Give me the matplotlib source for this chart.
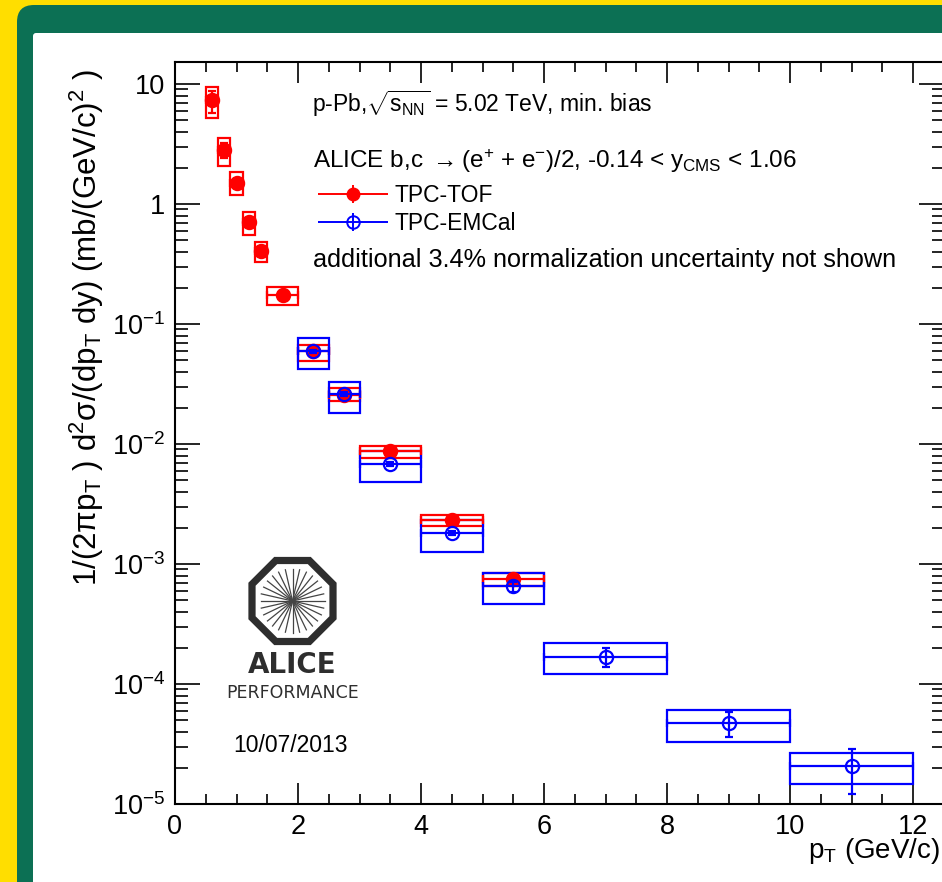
import numpy as np
import matplotlib
matplotlib.use("Agg")
import matplotlib.pyplot as plt
from matplotlib.patches import Rectangle, FancyBboxPatch, RegularPolygon
from matplotlib.legend_handler import HandlerErrorbar
from matplotlib.ticker import LogLocator, MultipleLocator, FuncFormatter, NullFormatter

plt.rcParams['font.family'] = ['Liberation Sans', 'DejaVu Sans']
plt.rcParams['mathtext.fontset'] = 'custom'
plt.rcParams['mathtext.rm'] = 'Liberation Sans'
plt.rcParams['mathtext.it'] = 'Liberation Sans'
plt.rcParams['mathtext.bf'] = 'Liberation Sans:bold'

# TPC-TOF (red, filled)
tof_lo = [0.5, 0.7, 0.9, 1.1, 1.3, 1.5, 2.0, 2.5, 3.0, 4.0, 5.0]
tof_hi = [0.7, 0.9, 1.1, 1.3, 1.5, 2.0, 2.5, 3.0, 4.0, 5.0, 6.0]
tof_x = [0.6, 0.8, 1.0, 1.2, 1.4, 1.75, 2.25, 2.75, 3.5, 4.5, 5.5]
tof_y = [7.4, 2.82, 1.50, 0.71, 0.405, 0.174, 0.059, 0.0258, 0.0087, 0.00233, 7.5e-4]
tof_stat_lo = [5.7, 2.4, 1.40, 0.68, 0.39, 0.157, 0.057, 0.025, 0.0084, 0.00226, 7.1e-4]
tof_stat_hi = [8.8, 3.2, 1.62, 0.745, 0.42, 0.19, 0.061, 0.0266, 0.0090, 0.0024, 7.9e-4]
tof_sys_lo = [5.2, 2.07, 1.195, 0.555, 0.326, 0.145, 0.0494, 0.023, 0.0077, 0.00209, 6.56e-4]
tof_sys_hi = [9.4, 3.55, 1.85, 0.857, 0.479, 0.205, 0.0671, 0.0293, 0.0096, 0.00256, 8.35e-4]

# TPC-EMCal (blue, open)
emc_lo = [2.0, 2.5, 3.0, 4.0, 5.0, 6.0, 8.0, 10.0]
emc_hi = [2.5, 3.0, 4.0, 5.0, 6.0, 8.0, 10.0, 12.0]
emc_x = [2.25, 2.75, 3.5, 4.5, 5.5, 7.0, 9.0, 11.0]
emc_y = [0.059, 0.026, 0.0068, 0.00181, 6.5e-4, 1.68e-4, 4.7e-5, 2.06e-5]
emc_stat_lo = [0.057, 0.025, 0.0065, 0.00174, 5.8e-4, 1.38e-4, 3.6e-5, 1.21e-5]
emc_stat_hi = [0.061, 0.027, 0.0071, 0.00188, 7.1e-4, 1.98e-4, 5.8e-5, 2.9e-5]
emc_sys_lo = [0.0419, 0.0182, 0.00479, 0.00127, 4.6e-4, 1.2e-4, 3.3e-5, 1.47e-5]
emc_sys_hi = [0.0764, 0.033, 0.0088, 0.00233, 8.4e-4, 2.18e-4, 6.03e-5, 2.64e-5]

RED = '#ff0000'
BLUE = '#0000ff'
W, H = 942, 882


def boxes(ax, lo, hi, ylo, yhi, color):
    for a, b, c, d in zip(lo, hi, ylo, yhi):
        ax.add_patch(Rectangle((a, c), b - a, d - c, fill=False, ec=color,
                               lw=1.6, zorder=2))


def points(ax, lo, hi, x, y, slo, shi, color, filled, z):
    x = np.array(x); y = np.array(y)
    xerr = [x - np.array(lo), np.array(hi) - x]
    yerr = [y - np.array(slo), np.array(shi) - y]
    ax.errorbar(x, y, xerr=xerr, yerr=yerr, fmt='o', ms=9.5, color=color,
                mfc=color if filled else 'none', mec=color, mew=1.6,
                elinewidth=1.6, capsize=3, capthick=1.2, zorder=z)


fig = plt.figure(figsize=(W / 100, H / 100), dpi=100, facecolor='#ffde00')

# frame
fig.patches.append(FancyBboxPatch((0.17, -1.0), 10.0, 8.77 + 1.0,
                                  boxstyle="round,pad=0,rounding_size=0.17",
                                  transform=fig.dpi_scale_trans,
                                  fc='#0c7054', ec='none', zorder=-3))
fig.patches.append(FancyBboxPatch((0.33, -1.0), 10.0, 8.49 + 1.0,
                                  boxstyle="round,pad=0,rounding_size=0.03",
                                  transform=fig.dpi_scale_trans,
                                  fc='white', ec='none', zorder=-2))

ax = fig.add_axes([175 / W, 78 / H, 768.75 / W, 742 / H])
ax.set_zorder(1)
ax.set_facecolor('white')
ax.set_yscale('log')
ax.set_xlim(0, 12.5)
ax.set_ylim(1e-5, 10 ** 1.183)

boxes(ax, tof_lo, tof_hi, tof_sys_lo, tof_sys_hi, RED)
boxes(ax, emc_lo, emc_hi, emc_sys_lo, emc_sys_hi, BLUE)
points(ax, tof_lo, tof_hi, tof_x, tof_y, tof_stat_lo, tof_stat_hi, RED, True, 4)
points(ax, emc_lo, emc_hi, emc_x, emc_y, emc_stat_lo, emc_stat_hi, BLUE, False, 5)

# legend proxies
h1 = ax.errorbar([], [], xerr=[], yerr=[], fmt='o', ms=9, color=RED, mfc=RED,
                 mec=RED, elinewidth=1.4, capsize=0, label='TPC-TOF')
h2 = ax.errorbar([], [], xerr=[], yerr=[], fmt='o', ms=9, color=BLUE, mfc='none',
                 mec=BLUE, mew=1.4, elinewidth=1.4, capsize=0, label='TPC-EMCal')
ax.legend(handles=[h1, h2], loc='upper left', bbox_to_anchor=(0.186, 0.836),
          frameon=False, fontsize=16.5, handlelength=3.05, handletextpad=0.31,
          borderpad=0, borderaxespad=0, labelspacing=0.22,
          handler_map={type(h1): HandlerErrorbar(xerr_size=1.52, yerr_size=0.4)})

# ticks
ax.xaxis.set_major_locator(MultipleLocator(2))
ax.xaxis.set_minor_locator(MultipleLocator(0.5))
ax.yaxis.set_major_locator(LogLocator(base=10, numticks=20))
ax.yaxis.set_minor_locator(LogLocator(base=10, subs=np.arange(2, 10), numticks=20))
ax.yaxis.set_minor_formatter(NullFormatter())


def ylab(v, pos):
    e = int(round(np.log10(v)))
    if e == 0:
        return '1'
    if e == 1:
        return '10'
    return r'$10^{%d}$' % e


ax.yaxis.set_major_formatter(FuncFormatter(ylab))
ax.tick_params(which='both', direction='in', top=True, right=True,
               labelsize=19.5, width=1.2)
ax.tick_params(axis='x', which='major', length=15, pad=7)
ax.tick_params(axis='x', which='minor', length=7.5)
ax.tick_params(axis='y', which='major', length=18, pad=7)
ax.tick_params(axis='y', which='minor', length=9)
for s in ax.spines.values():
    s.set_linewidth(1.5)

# annotations
ax.text(0.178, 0.9326, r'p-Pb,$\sqrt{s_{\rm NN}}$ = 5.02 TeV, min. bias',
        transform=ax.transAxes, fontsize=16.5, va='baseline', ha='left')
ax.text(0.1795, 0.857,
        r'ALICE b,c $\rightarrow$(e$^{+}$ + e$^{-}$)/2, -0.14 < y$_{\rm CMS}$ < 1.06',
        transform=ax.transAxes, fontsize=17.5, va='baseline', ha='left')
ax.text(0.1795, 0.7237, 'additional 3.4% normalization uncertainty not shown',
        transform=ax.transAxes, fontsize=18.2, va='baseline', ha='left')

fig.text(87 / W, 1 - 328 / H,
         r'1/(2$\pi$p$_{\rm T}$ ) d$^{2}$$\sigma$/(dp$_{\rm T}$ dy) (mb/(GeV/c)$^{2}$ )',
         rotation=90, ha='center', va='center', fontsize=22.5)
fig.text(940 / W, 1 - 858 / H, r'p$_{\rm T}$ (GeV/c)', ha='right',
         va='baseline', fontsize=20)

# ALICE performance logo
lax = fig.add_axes([242.5 / W, (H - 651) / H, 100 / W, 100 / H])
lax.set_zorder(2)
lax.set_xlim(-50, 50)
lax.set_ylim(-50, 50)
lax.axis('off')
lax.add_patch(RegularPolygon((0, 0), numVertices=8, radius=40.5 / np.cos(np.pi / 8),
                             orientation=np.pi / 8, fill=False, ec='#2e2e2e', lw=5.2))
for a in np.linspace(0, 2 * np.pi, 29)[:-1]:
    lax.plot([0, 32 * np.cos(a)], [0, 32 * np.sin(a)], color='#444444', lw=0.9)
fig.text(292.5 / W, 1 - 673 / H, 'ALICE', ha='center', va='baseline',
         fontsize=20, family='DejaVu Sans', weight='bold', color='#2e2e2e', zorder=3)
fig.text(292.5 / W, 1 - 698 / H, 'PERFORMANCE', ha='center', va='baseline',
         fontsize=12.5, family='DejaVu Sans', color='#2e2e2e', zorder=3)
fig.text(233 / W, 1 - 752 / H, '10/07/2013', ha='left', va='baseline',
         fontsize=16.5, zorder=3)

fig.savefig('out.png', dpi=100, facecolor=fig.get_facecolor())
